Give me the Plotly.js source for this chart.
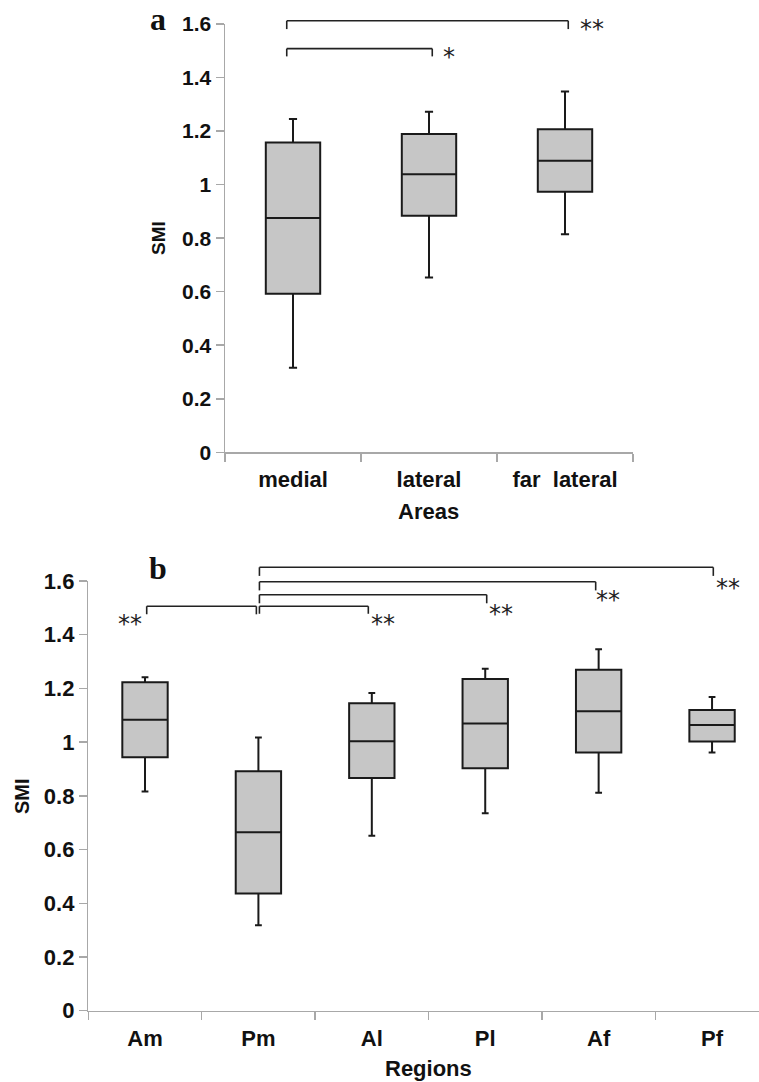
<!DOCTYPE html>
<html>
<head>
<meta charset="utf-8">
<script src="https://cdn.plot.ly/plotly-3.0.1.min.js"></script>
<style>html,body{margin:0;padding:0;background:#fff;overflow:hidden}#chart{width:759px;height:1082px}</style>
</head>
<body>
<div id="chart"></div>
<script>
// ---- Panel a: Areas ----
const areas = ['medial', 'lateral', 'far  lateral'];
const areaLower = [0.316, 0.653, 0.815];
const areaQ1 = [0.592, 0.884, 0.973];
const areaMedian = [0.875, 1.039, 1.089];
const areaQ3 = [1.157, 1.189, 1.207];
const areaUpper = [1.245, 1.272, 1.348];

// ---- Panel b: Regions ----
const regions = ['Am', 'Pm', 'Al', 'Pl', 'Af', 'Pf'];
const regionLower = [0.816, 0.318, 0.651, 0.735, 0.812, 0.961];
const regionQ1 = [0.944, 0.436, 0.866, 0.903, 0.961, 1.002];
const regionMedian = [1.083, 0.664, 1.003, 1.069, 1.115, 1.064];
const regionQ3 = [1.223, 0.892, 1.145, 1.235, 1.270, 1.120];
const regionUpper = [1.242, 1.017, 1.183, 1.273, 1.346, 1.168];

const yTicks = [0, 0.2, 0.4, 0.6, 0.8, 1, 1.2, 1.4, 1.6];
const yTickText = ['0', '0.2', '0.4', '0.6', '0.8', '1', '1.2', '1.4', '1.6'];

// significance brackets: [from x, to x, bar level, drop level]
const areaBrackets = [
  [-0.046, 1.024, 1.508, 1.479],
  [-0.046, 2.024, 1.612, 1.581]
];
const areaStars = [['*', 1.147, 1.496], ['**', 2.199, 1.601]];
const regionBrackets = [
  [0.015, 0.982, 1.506, 1.476],
  [1.009, 1.969, 1.506, 1.478],
  [1.009, 3.013, 1.549, 1.517],
  [1.009, 3.974, 1.597, 1.565],
  [1.009, 5.011, 1.651, 1.619]
];
const regionStars = [['**', -0.132, 1.458], ['**', 2.099, 1.459], ['**', 3.137, 1.495], ['**', 4.086, 1.548], ['**', 5.138, 1.594]];

const W = 759, H = 1082;
const domX1 = [225 / W, 633 / W];
const domY1 = [1 - 452.3 / H, 1 - 24 / H];
const domX2 = [88.3 / W, 1];
const domY2 = [1 - 1010.7 / H, 1 - 581 / H];
const YMAX = 1.6;
function py(v, dom) { return dom[0] + v / YMAX * (dom[1] - dom[0]); }

const boxStyle = {
  type: 'box',
  fillcolor: '#c6c6c6',
  line: {color: '#1a1a1a', width: 2},
  whiskerwidth: 0.15,
  width: 0.4,
  boxpoints: false,
  hoverinfo: 'skip',
  showlegend: false
};

const traces = [
  Object.assign({}, boxStyle, {
    x: areas, q1: areaQ1, median: areaMedian, q3: areaQ3,
    lowerfence: areaLower, upperfence: areaUpper, xaxis: 'x', yaxis: 'y'
  }),
  Object.assign({}, boxStyle, {
    x: regions, q1: regionQ1, median: regionMedian, q3: regionQ3,
    lowerfence: regionLower, upperfence: regionUpper, xaxis: 'x2', yaxis: 'y2'
  })
];

const shapes = [];
function addBrackets(list, xref, dom) {
  const ln = {color: '#222', width: 1.6};
  list.forEach(b => {
    const [a, c, top, drop] = b;
    shapes.push({type: 'line', xref: xref, yref: 'paper', x0: a, x1: c, y0: py(top, dom), y1: py(top, dom), line: ln});
    shapes.push({type: 'line', xref: xref, yref: 'paper', x0: a, x1: a, y0: py(top, dom), y1: py(drop, dom), line: ln});
    shapes.push({type: 'line', xref: xref, yref: 'paper', x0: c, x1: c, y0: py(top, dom), y1: py(drop, dom), line: ln});
  });
}
addBrackets(areaBrackets, 'x', domY1);
addBrackets(regionBrackets, 'x2', domY2);

const bold = {family: 'Liberation Sans, Arial, sans-serif', color: '#111', weight: 'bold'};
const annotations = [];
function addStars(list, xref, dom) {
  list.forEach(s => {
    annotations.push({text: s[0], xref: xref, yref: 'paper', x: s[1], y: py(s[2], dom) - 5 / H,
      xanchor: 'center', yanchor: 'middle', showarrow: false,
      font: {family: 'DejaVu Sans, sans-serif', size: 24, color: '#222'}});
  });
}
addStars(areaStars, 'x', domY1);
addStars(regionStars, 'x2', domY2);

const serifBold = {family: 'Liberation Serif, Times New Roman, serif', size: 32, color: '#111', weight: 'bold'};
annotations.push({text: 'a', xref: 'paper', yref: 'paper', x: 158 / W, y: 1 - 19.5 / H, xanchor: 'center', yanchor: 'middle', showarrow: false, font: serifBold});
annotations.push({text: 'b', xref: 'paper', yref: 'paper', x: 158 / W, y: 1 - 568 / H, xanchor: 'center', yanchor: 'middle', showarrow: false, font: serifBold});
annotations.push({text: 'SMI', xref: 'paper', yref: 'paper', x: 158 / W, y: 1 - 238 / H, textangle: -90, xanchor: 'center', yanchor: 'middle', showarrow: false,
  font: Object.assign({}, bold, {size: 19})});
annotations.push({text: 'SMI', xref: 'paper', yref: 'paper', x: 22 / W, y: 1 - 796 / H, textangle: -90, xanchor: 'center', yanchor: 'middle', showarrow: false,
  font: Object.assign({}, bold, {size: 20})});
annotations.push({text: 'Areas', xref: 'paper', yref: 'paper', x: 429 / W, y: 1 - 511 / H, xanchor: 'center', yanchor: 'middle', showarrow: false,
  font: Object.assign({}, bold, {size: 22})});
annotations.push({text: 'Regions', xref: 'paper', yref: 'paper', x: 428 / W, y: 1 - 1068 / H, xanchor: 'center', yanchor: 'middle', showarrow: false,
  font: Object.assign({}, bold, {size: 22})});

const axisCommon = {
  showgrid: false, zeroline: false, showline: true, linecolor: '#a8a8a8', linewidth: 1.5,
  ticks: 'outside', ticklen: 8, tickcolor: '#a8a8a8', tickwidth: 1.5, automargin: false, fixedrange: true
};

const layout = {
  width: W, height: H,
  margin: {l: 0, r: 0, t: 0, b: 0},
  paper_bgcolor: '#fff', plot_bgcolor: '#fff',
  showlegend: false,
  xaxis: Object.assign({}, axisCommon, {domain: domX1, anchor: 'y', type: 'category', range: [-0.5, 2.5], tickson: 'boundaries',
    ticklabelstandoff: 7, tickfont: Object.assign({}, bold, {size: 22})}),
  yaxis: Object.assign({}, axisCommon, {domain: domY1, anchor: 'x', range: [0, 1.6], tickmode: 'array', tickvals: yTicks, ticktext: yTickText,
    tickfont: Object.assign({}, bold, {size: 21})}),
  xaxis2: Object.assign({}, axisCommon, {domain: domX2, anchor: 'y2', type: 'category', range: [-0.5, 5.414], tickson: 'boundaries',
    ticklabelstandoff: 7, tickfont: Object.assign({}, bold, {size: 22})}),
  yaxis2: Object.assign({}, axisCommon, {domain: domY2, anchor: 'x2', range: [0, 1.6], tickmode: 'array', tickvals: yTicks, ticktext: yTickText,
    tickfont: Object.assign({}, bold, {size: 22})}),
  shapes: shapes,
  annotations: annotations
};

Plotly.newPlot('chart', traces, layout, {staticPlot: true, displayModeBar: false});
</script>
</body>
</html>
